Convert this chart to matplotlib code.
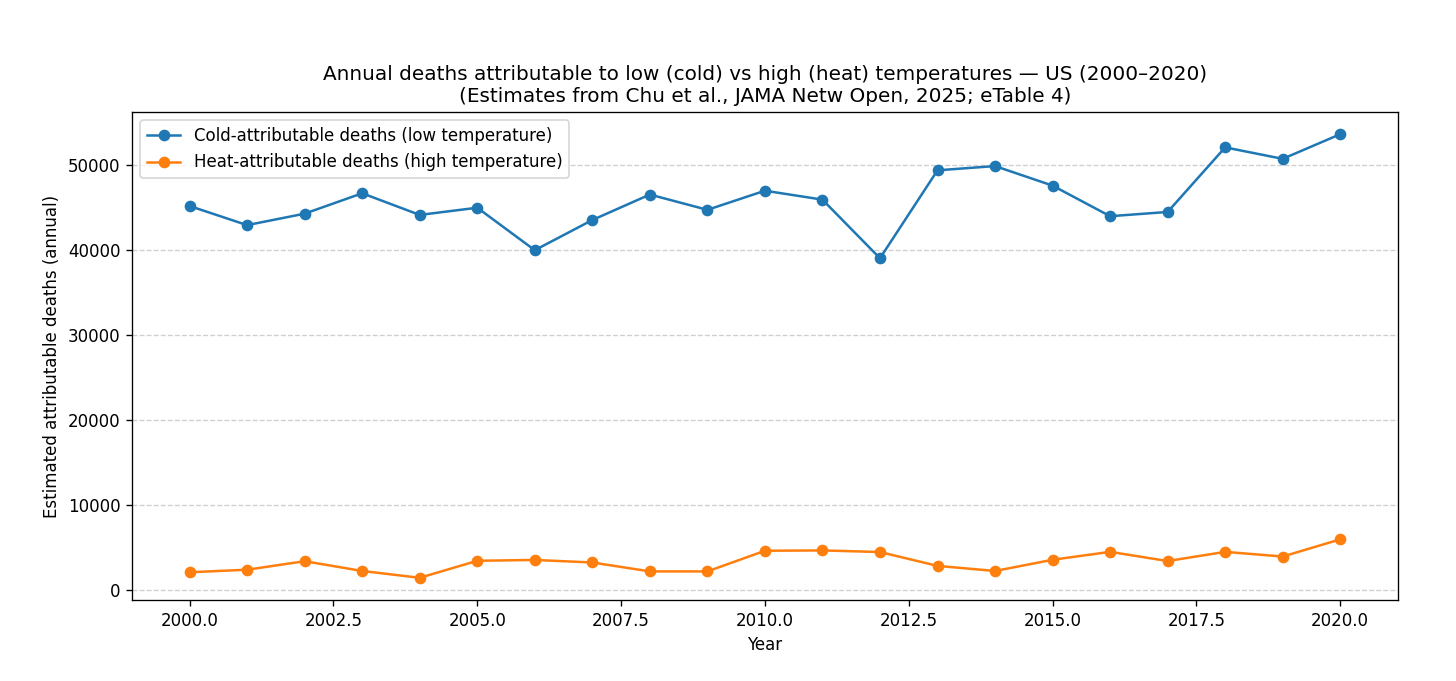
import matplotlib
matplotlib.use("Agg")
import matplotlib.pyplot as plt

years = list(range(2000, 2021))

# cold (low temperature) attributable deaths
cold_deaths = [45200, 42950, 44300, 46700, 44150, 45000, 40000, 43550, 46550, 44750,
               47000, 45950, 39050, 49400, 49900, 47600, 44000, 44500, 52100, 50750,
               53650]

# heat (high temperature) attributable deaths
heat_deaths = [2100, 2400, 3400, 2250, 1450, 3450, 3550, 3250, 2200, 2200,
               4630, 4670, 4480, 2850, 2250, 3570, 4500, 3420, 4500, 3950,
               5970]

fig = plt.figure(figsize=(1456 / 120, 681 / 120), dpi=120)
ax = fig.add_subplot(1, 1, 1)

ax.plot(years, cold_deaths, marker='o', label='Cold-attributable deaths (low temperature)')
ax.plot(years, heat_deaths, marker='o', label='Heat-attributable deaths (high temperature)')

ax.set_title('Annual deaths attributable to low (cold) vs high (heat) temperatures \u2014 US (2000\u20132020)\n'
             '(Estimates from Chu et al., JAMA Netw Open, 2025; eTable 4)')
ax.set_xlabel('Year')
ax.set_ylabel('Estimated attributable deaths (annual)')
ax.grid(axis='y', linestyle='--', alpha=0.6)
ax.legend(loc='upper left')

plt.subplots_adjust(left=0.0907, right=0.960, top=0.8355, bottom=0.119)
fig.savefig('out.png', dpi=120)
